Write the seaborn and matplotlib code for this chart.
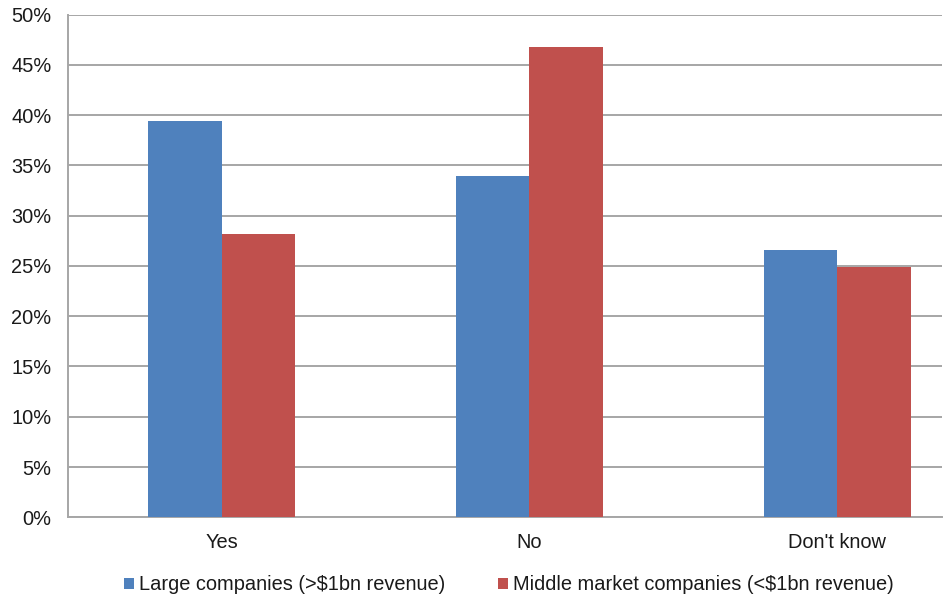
import matplotlib
matplotlib.use("Agg")
import matplotlib.pyplot as plt
from matplotlib.ticker import MultipleLocator, FuncFormatter
from matplotlib.patches import Patch
import seaborn as sns
import pandas as pd

# Survey answers by company size (share of respondents, %)
answers = ["Yes", "No", "Don't know"]
large_companies = [39.4, 33.9, 26.6]
middle_market = [28.2, 46.8, 24.9]
series_names = ["Large companies (>$1bn revenue)",
                "Middle market companies (<$1bn revenue)"]
colors = ["#4F81BD", "#C0504D"]

df = pd.DataFrame({
    "answer": answers * 2,
    "share": large_companies + middle_market,
    "group": [series_names[0]] * 3 + [series_names[1]] * 3,
})

sns.set_theme(style="white")
plt.rcParams["font.family"] = ["Liberation Sans", "DejaVu Sans"]

fig = plt.figure(figsize=(9.44, 6.0), dpi=100)
ax = fig.add_axes([0.0720, 0.1378, 0.9258, 0.8380])

sns.barplot(data=df, x="answer", y="share", hue="group", order=answers,
            hue_order=series_names, palette=colors, width=0.478,
            saturation=1, linewidth=0, ax=ax, legend=False, zorder=3)

ax.set_ylim(0, 50)
ax.set_xlim(-0.5, 2.341)
ax.yaxis.set_major_locator(MultipleLocator(5))
ax.yaxis.set_major_formatter(FuncFormatter(lambda v, p: f"{v:.0f}%"))
ax.grid(axis="y", color="#A6A6A6", linewidth=1.4, zorder=0)
ax.set_axisbelow(True)

for side in ["top", "right"]:
    ax.spines[side].set_visible(False)
for side in ["left", "bottom"]:
    ax.spines[side].set_color("#A6A6A6")
    ax.spines[side].set_linewidth(1.4)

ax.tick_params(axis="both", length=0, labelsize=14.4, colors="#1a1a1a")
ax.tick_params(axis="y", pad=12)
ax.tick_params(axis="x", pad=11)
ax.set_xlabel("")
ax.set_ylabel("")

handles = [Patch(facecolor=c, edgecolor="none") for c in colors]
fig.legend(handles, series_names, loc="center", bbox_to_anchor=(0.539, 0.025),
           ncol=2, frameon=False, fontsize=14.4, handlelength=0.5,
           handleheight=0.5, handletextpad=0.25, columnspacing=2.6,
           labelcolor="#1a1a1a")

fig.savefig("out.png", dpi=100, facecolor="white")
